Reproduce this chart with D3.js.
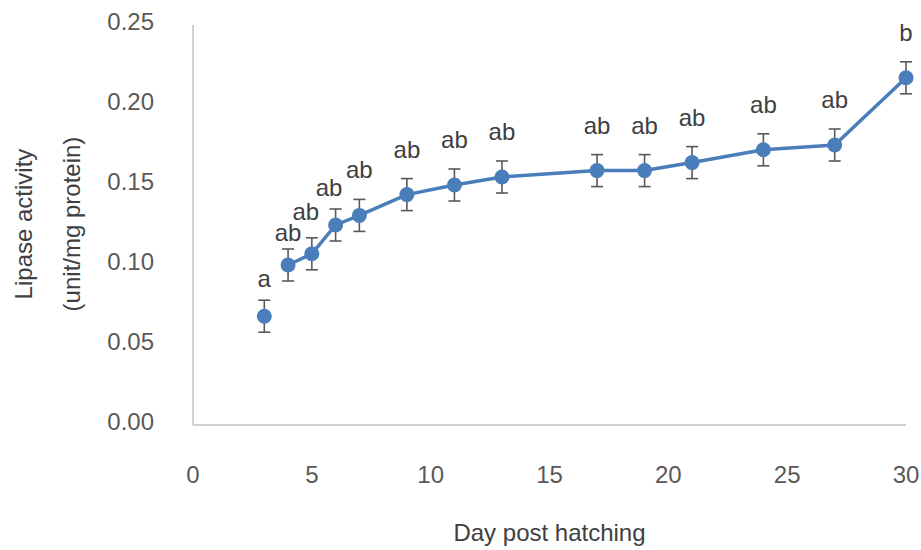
<!DOCTYPE html>
<html>
<head>
<meta charset="utf-8">
<script src="https://cdn.jsdelivr.net/npm/d3@7"></script>
<style>
  body { margin: 0; background: #fff; }
  svg { display: block; }
</style>
</head>
<body>
<div id="chart"></div>
<script>
// data
var days = [3, 4, 5, 6, 7, 9, 11, 13, 17, 19, 21, 24, 27, 30];
var lipase = [0.068, 0.100, 0.107, 0.125, 0.131, 0.144, 0.150, 0.155, 0.159, 0.159, 0.164, 0.172, 0.175, 0.217];
var sd = [0.010, 0.010, 0.010, 0.010, 0.010, 0.010, 0.010, 0.010, 0.010, 0.010, 0.010, 0.010, 0.010, 0.010];
var letters = ["a", "ab", "ab", "ab", "ab", "ab", "ab", "ab", "ab", "ab", "ab", "ab", "ab", "b"];
// day 3 is plotted but not joined to the line
var joined = [false, true, true, true, true, true, true, true, true, true, true, true, true, true];
var xTicks = [0, 5, 10, 15, 20, 25, 30];
var yTicks = [0, 0.05, 0.10, 0.15, 0.20, 0.25];

var width = 921;
var height = 550;
var plotLeft = 193, plotRight = 906, plotTop = 25, plotBottom = 425;

var font = "'Liberation Sans', Arial, Helvetica, sans-serif";
var fontsize = 24;
var color_line = "#4a7ebb";
var color_err = "#595959";
var color_axis = "#c0c0c0";
var color_tick = "#595959";
var color_text = "#404040";

// hand nudges for the crowded letter labels at the start [dx, dy]
var labelNudge = [[0, 7.5], [0, 12.5], [-6, 3], [-6.5, 8]];

var data = days.map(function(d, i) {
  return { day: d, v: lipase[i], e: sd[i], txt: letters[i], joined: joined[i] };
});

var x = d3.scaleLinear().domain([0, 30]).range([plotLeft, plotRight]);
var y = d3.scaleLinear().domain([0, 0.25]).range([plotBottom, plotTop]);

var svg = d3.select("#chart")
  .append("svg")
  .attr("width", width)
  .attr("height", height)
  .style("font-family", font);

//axes lines
svg.append("line")
  .attr("x1", x(0)).attr("x2", x(0))
  .attr("y1", y(0.25)).attr("y2", y(0))
  .style("stroke", color_axis)
  .style("stroke-width", 1.5);

svg.append("line")
  .attr("x1", x(0)).attr("x2", x(30))
  .attr("y1", y(0)).attr("y2", y(0))
  .style("stroke", color_axis)
  .style("stroke-width", 1.5);

//tick labels
svg.selectAll(".ytick")
  .data(yTicks)
  .enter()
  .append("text")
  .attr("class", "ytick")
  .attr("x", 154)
  .attr("y", function(d) { return y(d) + 5; })
  .attr("text-anchor", "end")
  .style("font-size", fontsize)
  .style("fill", color_tick)
  .text(d3.format(".2f"));

svg.selectAll(".xtick")
  .data(xTicks)
  .enter()
  .append("text")
  .attr("class", "xtick")
  .attr("x", function(d) { return x(d); })
  .attr("y", 483)
  .attr("text-anchor", "middle")
  .style("font-size", fontsize)
  .style("fill", color_tick)
  .text(function(d) { return d; });

//titles
svg.append("text")
  .attr("x", (plotLeft + plotRight) / 2)
  .attr("y", 541)
  .attr("text-anchor", "middle")
  .style("font-size", fontsize)
  .style("fill", color_text)
  .text("Day post hatching");

var ytitle = svg.append("text")
  .attr("transform", "translate(0,224) rotate(-90)")
  .attr("text-anchor", "middle")
  .style("font-size", fontsize)
  .style("fill", color_text);

ytitle.append("tspan").attr("x", 0).attr("y", 32).text("Lipase activity");
ytitle.append("tspan").attr("x", 0).attr("y", 80).text("(unit/mg protein)");

//line
var line = d3.line()
  .defined(function(d) { return d.joined; })
  .x(function(d) { return x(d.day); })
  .y(function(d) { return y(d.v); });

svg.append("path")
  .datum(data)
  .attr("d", line)
  .style("fill", "none")
  .style("stroke", color_line)
  .style("stroke-width", 3.5)
  .style("stroke-linejoin", "round");

//error bars
var err = svg.selectAll(".err")
  .data(data)
  .enter()
  .append("g")
  .attr("class", "err")
  .style("stroke", color_err)
  .style("stroke-width", 1.6);

err.append("line")
  .attr("x1", function(d) { return x(d.day); })
  .attr("x2", function(d) { return x(d.day); })
  .attr("y1", function(d) { return y(d.v + d.e); })
  .attr("y2", function(d) { return y(d.v - d.e); });

err.append("line")
  .attr("x1", function(d) { return x(d.day) - 6; })
  .attr("x2", function(d) { return x(d.day) + 6; })
  .attr("y1", function(d) { return y(d.v + d.e); })
  .attr("y2", function(d) { return y(d.v + d.e); });

err.append("line")
  .attr("x1", function(d) { return x(d.day) - 6; })
  .attr("x2", function(d) { return x(d.day) + 6; })
  .attr("y1", function(d) { return y(d.v - d.e); })
  .attr("y2", function(d) { return y(d.v - d.e); });

//markers
svg.selectAll(".dot")
  .data(data)
  .enter()
  .append("circle")
  .attr("class", "dot")
  .attr("cx", function(d) { return x(d.day); })
  .attr("cy", function(d) { return y(d.v); })
  .attr("r", 7.5)
  .style("fill", color_line);

//letters above points
svg.selectAll(".lbl")
  .data(data)
  .enter()
  .append("text")
  .attr("class", "lbl")
  .attr("x", function(d, i) { return x(d.day) + (labelNudge[i] ? labelNudge[i][0] : 0); })
  .attr("y", function(d, i) { return y(d.v) - 37 + (labelNudge[i] ? labelNudge[i][1] : 0); })
  .attr("text-anchor", "middle")
  .style("font-size", fontsize)
  .style("fill", color_text)
  .text(function(d) { return d.txt; });
</script>
</body>
</html>
